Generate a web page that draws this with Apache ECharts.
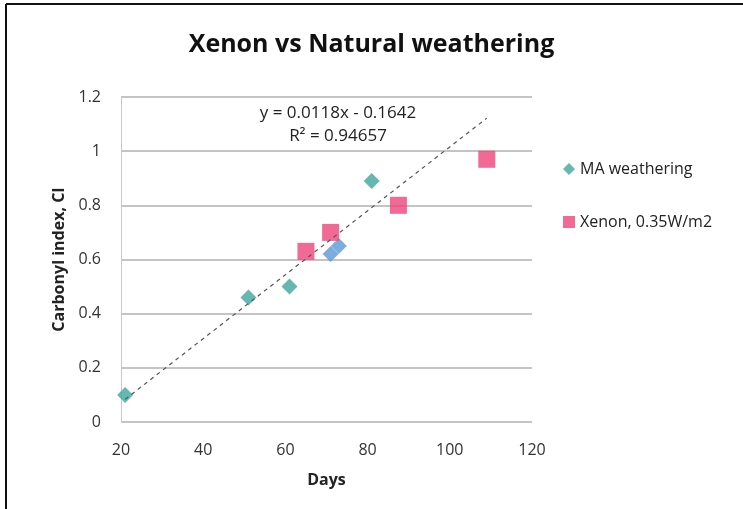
<!DOCTYPE html>
<html>
<head>
<meta charset="utf-8">
<script src="https://cdn.jsdelivr.net/npm/echarts@6/dist/echarts.min.js"></script>
<style>html,body{margin:0;padding:0;background:#fff}#c{width:743px;height:509px}</style>
</head>
<body>
<div id="c"></div>
<script>
var maWeathering = [[21, 0.10], [51, 0.46], [61, 0.50], [81, 0.89]];
var maBlue = [[71, 0.62], [73, 0.65]];
var xenon = [[65, 0.63], [71, 0.70], [87.5, 0.80], [109, 0.97]];
var trendCoef = {slope: 0.0118, intercept: -0.1642};
var trendRange = [21, 109];
var trendLine = trendRange.map(function (x) { return [x, trendCoef.slope * x + trendCoef.intercept]; });
var xTicks = [20, 40, 60, 80, 100, 120];
var yTicks = [0, 0.2, 0.4, 0.6, 0.8, 1, 1.2];

var font = '"Open Sans", sans-serif';
var chart = echarts.init(document.getElementById('c'));
chart.setOption({
  animation: false,
  backgroundColor: '#fff',
  title: {
    text: 'Xenon vs Natural weathering',
    left: 'center', top: 27,
    textStyle: {fontFamily: font, fontSize: 25, fontWeight: 'bold', color: '#111'}
  },
  legend: {
    orient: 'vertical', left: 558, top: 156, itemGap: 37,
    itemWidth: 12, itemHeight: 12,
    textStyle: {fontFamily: font, fontSize: 16, color: '#222'},
    data: [
      {name: 'MA weathering', icon: 'diamond'},
      {name: 'Xenon, 0.35W/m2', icon: 'rect'}
    ]
  },
  grid: {left: 121, right: 211, top: 97, bottom: 87},
  xAxis: {
    type: 'value', min: 20, max: 120, interval: 20,
    name: 'Days', nameLocation: 'middle', nameGap: 50,
    nameTextStyle: {fontFamily: font, fontSize: 16, fontWeight: 'bold', color: '#222'},
    axisLine: {show: false}, axisTick: {show: false},
    axisLabel: {fontFamily: font, fontSize: 16, color: '#333', margin: 20,
      customValues: xTicks},
    splitLine: {show: false}
  },
  yAxis: {
    type: 'value', min: 0, max: 1.2, interval: 0.2,
    name: 'Carbonyl index, CI', nameLocation: 'middle', nameGap: 52,
    nameTextStyle: {fontFamily: font, fontSize: 16, fontWeight: 'bold', color: '#222'},
    axisLine: {show: true, lineStyle: {color: '#c8c8c8', width: 1}},
    axisTick: {show: false},
    axisLabel: {fontFamily: font, fontSize: 16, color: '#333', margin: 20,
      formatter: function (v) { return String(Math.round(v * 10) / 10); }},
    splitLine: {show: true, lineStyle: {color: '#c4c4c4', width: 2}}
  },
  graphic: [
    {type: 'text', x: 338, y: 105, style: {text: 'y = 0.0118x - 0.1642', fontFamily: font, fontSize: 17, fill: '#222', align: 'center'}},
    {type: 'text', x: 338, y: 128, style: {text: 'R² = 0.94657', fontFamily: font, fontSize: 17, fill: '#222', align: 'center'}},
    {type: 'line', shape: {x1: 6, y1: 4, x2: 743, y2: 4}, style: {stroke: '#111', lineWidth: 2}},
    {type: 'line', shape: {x1: 6, y1: 4, x2: 6, y2: 509}, style: {stroke: '#111', lineWidth: 2}}
  ],
  series: [
    {
      name: 'trend', type: 'line', data: trendLine, symbol: 'none', silent: true,
      lineStyle: {color: '#555', width: 1.2, type: [4, 4]}, z: 3
    },
    {
      name: 'MA weathering', type: 'scatter', data: maWeathering, symbol: 'diamond', symbolSize: 16,
      itemStyle: {color: '#3fa59f'}, z: 2
    },
    {
      name: 'MA weathering ', type: 'scatter', data: maBlue, symbol: 'diamond', symbolSize: 16,
      itemStyle: {color: '#5a9ad6'}, z: 2
    },
    {
      name: 'Xenon, 0.35W/m2', type: 'scatter', data: xenon, symbol: 'rect', symbolSize: 17,
      itemStyle: {color: '#ee447a'}, z: 2
    }
  ]
});
</script>
</body>
</html>
